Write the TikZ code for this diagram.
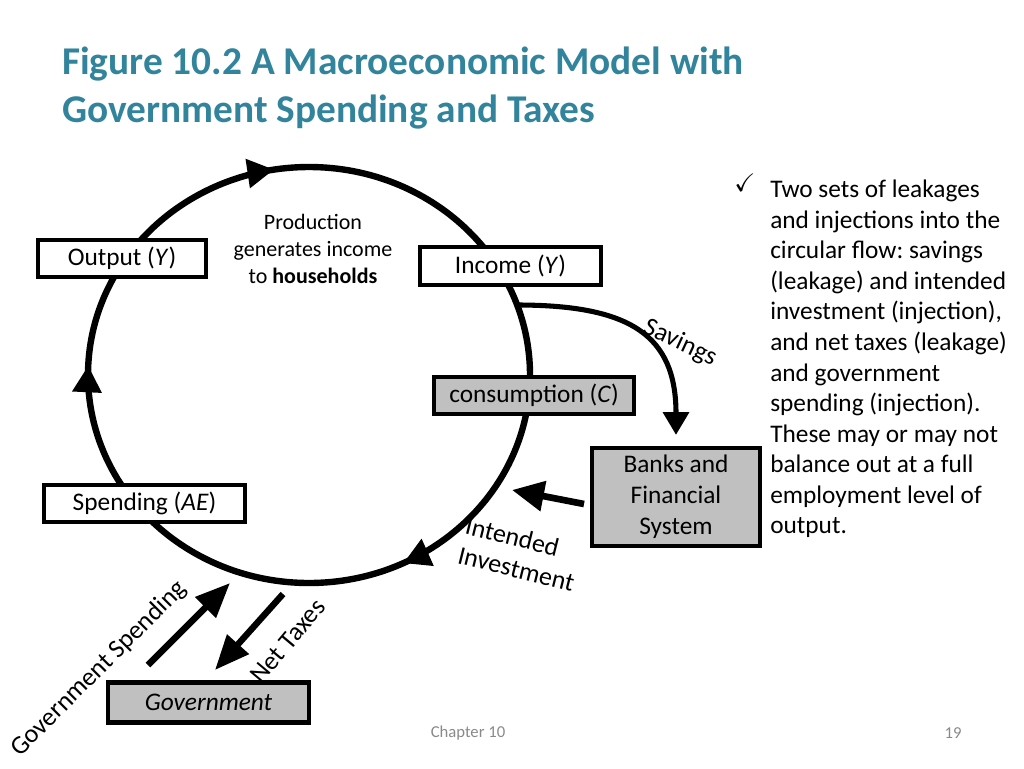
\documentclass[tikz,border=0pt]{standalone}
\usepackage{amssymb}
\usepackage{fontspec}
\setmainfont{Carlito}
\frenchspacing
\usepackage{tikz}
\usetikzlibrary{arrows.meta,positioning,decorations.markings}
\definecolor{titleteal}{RGB}{49,132,155}
\definecolor{boxgrey}{RGB}{192,192,192}
\definecolor{footgrey}{RGB}{137,137,137}
\tikzset{box/.style={draw=black,line width=3.2pt,fill=white,inner sep=0pt,font=\fontsize{19}{23}\selectfont},
         greybox/.style={box,fill=boxgrey},
         flow/.style={line width=4.8pt},
         label/.style={font=\fontsize{19.5}{23}\selectfont,inner sep=0pt}}

\begin{document}
\begin{tikzpicture}[x=0.75pt, y=-0.75pt, >={Triangle[length=20pt,width=21pt]}]
        \useasboundingbox (0,0) rectangle (1024,768);
        % title
        \node[anchor=north west, align=left, inner sep=0pt, text=titleteal, font=\bfseries\fontsize{29.5}{36}\selectfont] (title) at (62,47) {Figure 10.2 A Macroeconomic Model with\\Government Spending and Taxes};
        % circular flow
        \draw[flow, postaction={decorate}, decoration={markings,
                mark=at position 0.178 with {\arrow{>}},
                mark=at position 0.507 with {\arrow{>}},
                mark=at position 0.724 with {\arrow{>}}}]
                (309,375) ellipse [x radius=221, y radius=208];
        \node[box, minimum width=126pt, minimum height=28pt] (output) at (122,258.5) {Output (\textit{Y})};
        \node[box, minimum width=136pt, minimum height=29pt] (income) at (510.5,266) {Income (\textit{Y})};
        \node[greybox, minimum width=150pt, minimum height=28pt] (consumption) at (534,395.5) {consumption (\textit{C})};
        \node[box, minimum width=151pt, minimum height=28pt] (spending) at (144.5,503.5) {Spending (\textit{AE})};
        \node[greybox, minimum width=126pt, minimum height=74pt, align=center, font=\fontsize{19}{23.3}\selectfont] (banks) at (676,497) {Banks and\\Financial\\System};
        \node[greybox, minimum width=151pt, minimum height=30pt] (government) at (208.5,702.5) {\textit{Government}};
        \node[align=center, inner sep=0pt, font=\fontsize{16.5}{20.3}\selectfont] (production) at (313,249) {Production\\generates income\\to \textbf{households}};
        % leakages and injections
        \coordinate (savings start) at (517,305);
        \draw[line width=3.8pt, ->, >={Triangle[length=17pt,width=19pt]}, shorten >=8pt] (savings start) .. controls (630,305) and (676,335) .. (banks.north);
        \node[label, rotate=-25] (savings label) at (680,343) {Savings};
        \coordinate (invest start) at (584,504);
        \coordinate (invest end) at (512,490);
        \draw[line width=5pt, ->, >={Triangle[length=24pt,width=22pt]}] (invest start) -- (invest end);
        \node[label, rotate=-14, align=left] (invest label) at (520,554) {Intended\\Investment};
        \coordinate (spend start) at (148,665);
        \coordinate (spend end) at (230,583);
        \coordinate (tax start) at (283,594);
        \coordinate (tax end) at (215,670);
        \draw[flow, ->, >={Triangle[length=26pt,width=21pt]}] (spend start) -- (spend end);
        \draw[flow, ->, >={Triangle[length=26pt,width=21pt]}] (tax start) -- (tax end);
        \node[label, rotate=45] (spend label) at (99,669) {Government Spending};
        \node[label, rotate=50] (tax label) at (288,641) {Net Taxes};
        % notes
        \node[inner sep=0pt, font=\fontsize{19}{22}\selectfont] (tick) at (745,183) {\checkmark};
        \node[anchor=north west, align=left, inner sep=0pt, font=\fontsize{19}{22.9}\selectfont] (notes) at (770,180) {Two sets of leakages\\and injections into the\\circular flow: savings\\(leakage) and intended\\investment (injection),\\and net taxes (leakage)\\and government\\spending (injection).\\These may or may not\\balance out at a full\\employment level of\\output.};
        % footer
        \node[text=footgrey, font=\fontsize{12.5}{15}\selectfont] (chapter) at (468,733) {Chapter 10};
        \node[text=footgrey, font=\fontsize{12.5}{15}\selectfont] (page) at (953,733) {19};
\end{tikzpicture}
\end{document}
